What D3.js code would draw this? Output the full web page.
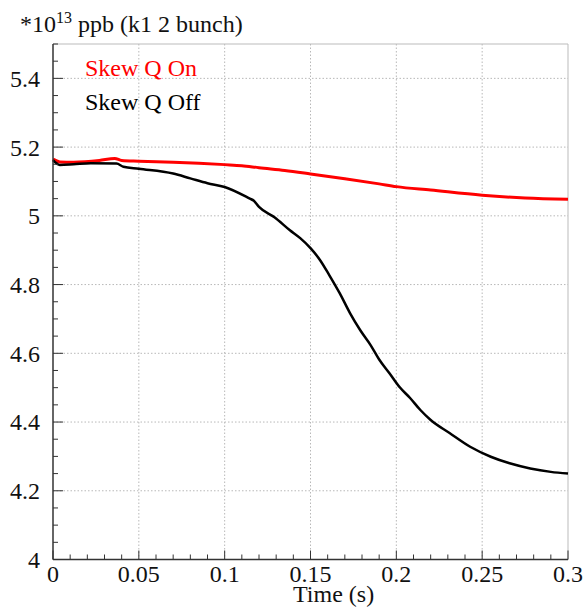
<!DOCTYPE html>
<html>
<head>
<meta charset="utf-8">
<script src="https://cdn.jsdelivr.net/npm/d3@7"></script>
<style>
  html, body { margin: 0; padding: 0; background: #fff; }
  svg { display: block; }
  text { font-family: "Liberation Serif", "Times New Roman", serif; }
</style>
</head>
<body>
<svg id="chart" width="583" height="611"></svg>
<script>
// ---- data ----
const timeOn = [0, 0.004, 0.012, 0.027, 0.036, 0.040, 0.05, 0.07, 0.085, 0.10, 0.11, 0.12, 0.135, 0.15, 0.17, 0.19, 0.20, 0.22, 0.25, 0.275, 0.30];
const valuesOn = [5.165, 5.157, 5.156, 5.161, 5.167, 5.161, 5.159, 5.156, 5.153, 5.149, 5.146, 5.140, 5.132, 5.122, 5.108, 5.093, 5.085, 5.075, 5.060, 5.052, 5.048];

const timeOff = [0, 0.004, 0.012, 0.022, 0.037, 0.041, 0.05, 0.07, 0.08, 0.09, 0.10, 0.1147, 0.117, 0.120, 0.129, 0.138, 0.144, 0.150, 0.1556, 0.161, 0.167, 0.173, 0.179, 0.185, 0.190, 0.196, 0.202, 0.208, 0.214, 0.220, 0.231, 0.243, 0.255, 0.266, 0.278, 0.290, 0.30];
const valuesOff = [5.162, 5.148, 5.150, 5.153, 5.152, 5.143, 5.137, 5.123, 5.109, 5.095, 5.084, 5.050, 5.044, 5.026, 4.996, 4.958, 4.935, 4.906, 4.871, 4.827, 4.775, 4.717, 4.667, 4.624, 4.582, 4.542, 4.501, 4.470, 4.435, 4.406, 4.368, 4.328, 4.299, 4.280, 4.265, 4.255, 4.250];

const xTicks = [0, 0.05, 0.1, 0.15, 0.2, 0.25, 0.3];
const xTickLabels = ["0", "0.05", "0.1", "0.15", "0.2", "0.25", "0.3"];
const yTicks = [4, 4.2, 4.4, 4.6, 4.8, 5, 5.2, 5.4];
const yTickLabels = ["4", "4.2", "4.4", "4.6", "4.8", "5", "5.2", "5.4"];

const seriesNames = ["Skew Q On", "Skew Q Off"];
const seriesColors = ["#ff0000", "#000000"];
const xTitle = "Time (s)";

// ---- layout ----
const svg = d3.select("#chart");
const L = 53, R = 568, T = 44, B = 559.5;

const x = d3.scaleLinear().domain([0, 0.3]).range([L, R]);
const y = d3.scaleLinear().domain([4, 5.5]).range([B, T]);

// grid
const grid = svg.append("g");
grid.selectAll(".gx").data(xTicks.slice(1, -1)).enter().append("line")
  .attr("x1", d => x(d)).attr("x2", d => x(d)).attr("y1", T).attr("y2", B)
  .attr("stroke", "#b8b8b8").attr("stroke-width", 1).attr("stroke-dasharray", "1.5,2");
grid.selectAll(".gy").data(yTicks.slice(1)).enter().append("line")
  .attr("x1", L).attr("x2", R).attr("y1", d => y(d)).attr("y2", d => y(d))
  .attr("stroke", "#b8b8b8").attr("stroke-width", 1).attr("stroke-dasharray", "1.5,2");

// top/right frame
svg.append("line").attr("x1", L).attr("x2", R).attr("y1", T).attr("y2", T).attr("stroke", "#bbbbbb");
svg.append("line").attr("x1", R).attr("x2", R).attr("y1", T).attr("y2", B).attr("stroke", "#bbbbbb");

// data lines
const line = d3.line().x(d => x(d[0])).y(d => y(d[1])).curve(d3.curveMonotoneX);
const dataOn = timeOn.map((t, i) => [t, valuesOn[i]]);
const dataOff = timeOff.map((t, i) => [t, valuesOff[i]]);
svg.append("path").datum(dataOn).attr("d", line)
  .attr("fill", "none").attr("stroke", seriesColors[0]).attr("stroke-width", 3).attr("stroke-linejoin", "round");
svg.append("path").datum(dataOff).attr("d", line)
  .attr("fill", "none").attr("stroke", seriesColors[1]).attr("stroke-width", 2.5).attr("stroke-linejoin", "round");

// axes
const xMinor = d3.range(0, 31).map(i => i * 0.01);
const yMinor = d3.range(0, 31).map(i => 4 + i * 0.05).filter(v => v <= 5.5001);

const xAxis = svg.append("g").attr("transform", `translate(0,${B})`);
xAxis.selectAll(".mn").data(xMinor).enter().append("line")
  .attr("x1", d => x(d)).attr("x2", d => x(d)).attr("y1", 0)
  .attr("y2", (d, i) => i % 5 === 0 ? -9 : -5)
  .attr("stroke", "#333").attr("stroke-width", 1);
xAxis.append("line").attr("x1", L).attr("x2", R).attr("stroke", "#333").attr("stroke-width", 1.5);
xAxis.selectAll(".lbl").data(xTicks).enter().append("text")
  .attr("x", d => x(d)).attr("y", 22.5).attr("text-anchor", "middle")
  .attr("font-size", 24).attr("fill", "#111")
  .text((d, i) => xTickLabels[i]);

const yAxis = svg.append("g").attr("transform", `translate(${L},0)`);
yAxis.selectAll(".mn").data(yMinor).enter().append("line")
  .attr("y1", d => y(d)).attr("y2", d => y(d)).attr("x1", 0)
  .attr("x2", (d, i) => i % 4 === 0 ? 10 : 5)
  .attr("stroke", "#333").attr("stroke-width", 1);
yAxis.append("line").attr("y1", T).attr("y2", B).attr("stroke", "#333").attr("stroke-width", 1.5);
yAxis.selectAll(".lbl").data(yTicks).enter().append("text")
  .attr("x", -13).attr("y", d => y(d)).attr("dy", "0.35em").attr("text-anchor", "end")
  .attr("font-size", 24).attr("fill", "#111")
  .text((d, i) => yTickLabels[i]);

// axis title
svg.append("text").attr("x", 293).attr("y", 602).attr("font-size", 24).attr("fill", "#111").text(xTitle);

// y title
const yt = svg.append("text").attr("x", 20).attr("y", 32).attr("font-size", 24).attr("fill", "#111");
yt.append("tspan").text("*10");
yt.append("tspan").attr("font-size", 16).attr("dy", -9).text("13");
yt.append("tspan").attr("dy", 9).text(" ppb (k1 2 bunch)");

// legend
svg.append("text").attr("x", 85).attr("y", 76).attr("font-size", 24).attr("fill", seriesColors[0]).text(seriesNames[0]);
svg.append("text").attr("x", 85).attr("y", 110).attr("font-size", 24).attr("fill", seriesColors[1]).text(seriesNames[1]);
</script>
</body>
</html>
